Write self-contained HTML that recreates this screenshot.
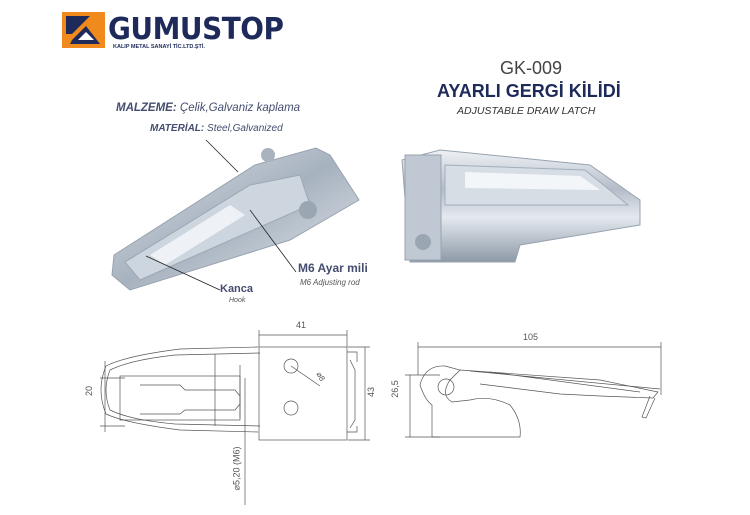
<!DOCTYPE html>
<html><head><meta charset="utf-8"><style>
html,body{margin:0;padding:0;background:#fff}
body{width:750px;height:515px;position:relative;overflow:hidden;font-family:"Liberation Sans",sans-serif}
.t{position:absolute;white-space:nowrap}
</style></head><body>
<svg width="750" height="515" style="position:absolute;left:0;top:0">
<defs>
<linearGradient id="m" x1="0" y1="0" x2="0" y2="1">
<stop offset="0" stop-color="#eef2f6"/><stop offset=".35" stop-color="#b4bdc8"/><stop offset=".6" stop-color="#e4e9ef"/><stop offset="1" stop-color="#8d99a7"/></linearGradient>
<linearGradient id="m2" x1="0" y1="0" x2="1" y2="1">
<stop offset="0" stop-color="#dde3ea"/><stop offset=".5" stop-color="#a7b2bf"/><stop offset="1" stop-color="#e6ebf0"/></linearGradient>
</defs>
<!-- logo -->
<polygon points="62,12 105,12 105,48 62,48" fill="#f08a1c"/>
<polygon points="66,16 90,16 72,34 66,34" fill="#1e2a5a"/>
<polygon points="72,40 86,26 100,44 70,44" fill="#1e2a5a"/>
<polygon points="78,40 86,32 94,40" fill="#fff"/>
<!-- left photo -->
<polygon points="114,255 255,165 316,148 330,155 359,200 290,240 130,290 112,275" fill="url(#m2)" stroke="#98a3b0" stroke-width="1"/>
<polygon points="125,262 250,185 300,175 310,205 140,280" fill="#cdd5de" stroke="#9ca7b4"/>
<polygon points="150,255 230,205 245,215 165,265" fill="#eef2f6"/>
<circle cx="268" cy="155" r="7" fill="#a9b3bf"/><circle cx="308" cy="210" r="9" fill="#9ba6b3"/>
<!-- right photo -->
<polygon points="402,160 440,150 590,165 640,200 640,225 520,245 515,262 410,262" fill="url(#m)" stroke="#98a3b0"/>
<polygon points="445,165 585,170 628,205 445,205" fill="#d6dde5" stroke="#a3aebb"/>
<polygon points="465,172 580,176 600,190 465,188" fill="#f3f6f9"/>
<rect x="405" y="155" width="36" height="105" fill="#c0c9d3" stroke="#98a3b0"/>
<circle cx="423" cy="242" r="8" fill="#9ba6b3"/>
<!-- leader lines -->
<g stroke="#222" stroke-width="0.8" fill="none">
<line x1="206" y1="140" x2="238" y2="172"/>
<line x1="250" y1="210" x2="296" y2="272"/>
<line x1="146" y1="256" x2="220" y2="290"/>
</g>
<!-- drawings -->
<g stroke="#555" stroke-width="0.7" fill="none">
<path d="M260,353 L175,355 Q130,360 110,370 Q102,390 110,410 Q130,420 175,424 L260,426"/>
<path d="M258,347 L180,349 Q125,356 106,366 Q96,390 106,414 Q125,423 180,430 L258,432"/>
<rect x="120" y="376" width="120" height="44"/>
<path d="M140,385 L180,385 L185,390 L235,390 L240,396 L240,404 L235,410 L185,410 L180,414 L140,414"/>
<line x1="215" y1="354" x2="215" y2="426"/><line x1="240" y1="365" x2="240" y2="418"/>
<rect x="259" y="347" width="88" height="93"/>
<path d="M347,352 L357,352 L357,362 M347,432 L357,432 L357,426 M350,360 L355,370 L355,420 L350,428"/>
<circle cx="291" cy="366" r="7"/><circle cx="291" cy="408" r="7"/>
<line x1="291" y1="366" x2="320" y2="386"/>
<line x1="259" y1="335" x2="347" y2="335"/><line x1="259" y1="330" x2="259" y2="347"/><line x1="347" y1="330" x2="347" y2="347"/>
<line x1="365" y1="347" x2="365" y2="440"/><line x1="348" y1="347" x2="370" y2="347"/><line x1="348" y1="440" x2="370" y2="440"/>
<line x1="105" y1="361" x2="105" y2="432"/><line x1="100" y1="378" x2="125" y2="378"/><line x1="100" y1="426" x2="125" y2="426"/>
<line x1="245" y1="378" x2="245" y2="505"/>
<!-- side view -->
<line x1="418" y1="347" x2="661" y2="347"/><line x1="418" y1="342" x2="418" y2="375"/><line x1="661" y1="342" x2="661" y2="395"/>
<line x1="410" y1="375" x2="410" y2="437"/><line x1="405" y1="375" x2="440" y2="375"/><line x1="405" y1="437" x2="440" y2="437"/>
<path d="M432,437 L520,437 Q522,420 510,405 Q490,395 470,400 L452,402 Q440,395 450,380 L460,370 L445,366 Q425,365 420,385 Q425,400 432,405 Z"/>
<circle cx="446" cy="387" r="8"/>
<path d="M460,370 L600,380 L658,392 L653,398 L600,396 L560,394 L480,384"/>
<path d="M470,371 L660,389 M490,372 L640,392"/>
<path d="M650,396 L642,417 L646,418 L655,398"/>
</g>
</svg>
<div class="t" style="left:108px;top:12px;font-size:30px;font-weight:bold;color:#1e2a5a;letter-spacing:-0.5px;font-family:'DejaVu Sans',sans-serif;transform:scaleX(0.93);transform-origin:left">GUMUSTOP</div>
<div class="t" style="left:113px;top:44px;font-size:5.5px;font-weight:bold;color:#1e2a5a">KALIP METAL SANAYİ TİC.LTD.ŞTİ.</div>
<div class="t" style="left:500px;top:58px;font-size:18px;color:#444">GK-009</div>
<div class="t" style="left:437px;top:81px;font-size:18px;font-weight:bold;color:#1e2a5a">AYARLI GERGİ KİLİDİ</div>
<div class="t" style="left:457px;top:105px;font-size:10.5px;font-style:italic;color:#333">ADJUSTABLE DRAW LATCH</div>
<div class="t" style="left:116px;top:102px;font-size:11.5px;color:#454d70"><b><i>MALZEME:</i></b> <i>Çelik,Galvaniz kaplama</i></div>
<div class="t" style="left:150px;top:123px;font-size:10px;color:#454d70"><b><i>MATERİAL:</i></b> <i>Steel,Galvanized</i></div>
<div class="t" style="left:298px;top:261px;font-size:12px;font-weight:bold;color:#454d70">M6 Ayar mili</div>
<div class="t" style="left:300px;top:278px;font-size:8px;font-style:italic;color:#555">M6 Adjusting rod</div>
<div class="t" style="left:220px;top:283px;font-size:11px;font-weight:bold;color:#454d70">Kanca</div>
<div class="t" style="left:229px;top:297px;font-size:7px;font-style:italic;color:#555">Hook</div>
<div class="t" style="left:296px;top:320px;font-size:9px;color:#555">41</div>
<div class="t" style="left:523px;top:332px;font-size:9px;color:#555">105</div>
<div class="t" style="left:84px;top:386px;font-size:9px;color:#555;transform:rotate(-90deg)">20</div>
<div class="t" style="left:366px;top:387px;font-size:9px;color:#555;transform:rotate(-90deg)">43</div>
<div class="t" style="left:386px;top:384px;font-size:9px;color:#555;transform:rotate(-90deg)">26,5</div>
<div class="t" style="left:215px;top:463px;font-size:9px;color:#555;transform:rotate(-90deg)">⌀5,20 (M6)</div>
<div class="t" style="left:316px;top:372px;font-size:8px;color:#555;transform:rotate(60deg)">⌀8</div>
</body></html>
